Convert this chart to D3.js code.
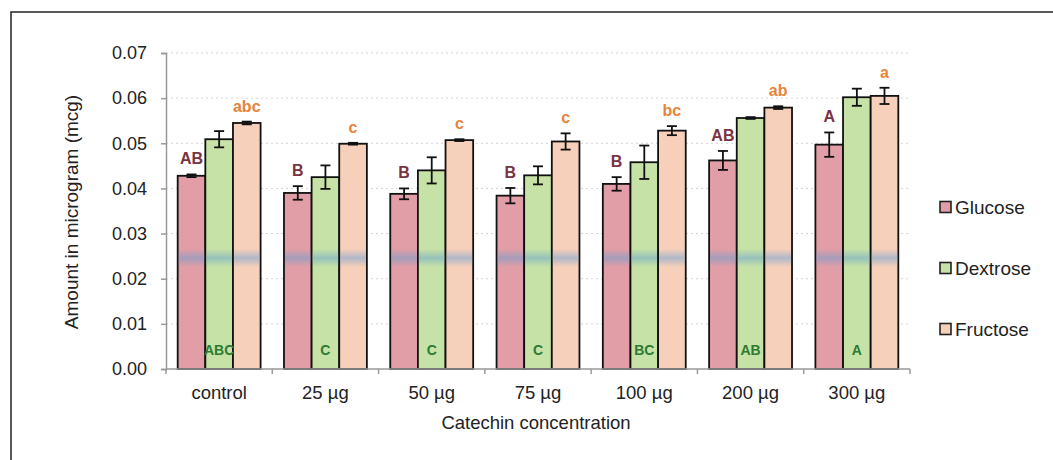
<!DOCTYPE html>
<html>
<head>
<meta charset="utf-8">
<script src="https://cdn.jsdelivr.net/npm/d3@7"></script>
<style>
  html, body { margin: 0; padding: 0; background: #fff; }
  svg { display: block; font-family: "Liberation Sans", Arial, sans-serif; }
</style>
</head>
<body>
<svg id="chart" width="1053" height="460"></svg>
<script>
// Sugar content at each catechin concentration
const categories = ["control", "25 µg", "50 µg", "75 µg", "100 µg", "200 µg", "300 µg"];
const seriesNames = ["Glucose", "Dextrose", "Fructose"];

const glucose      = [0.0428, 0.0390, 0.0388, 0.0384, 0.0410, 0.0462, 0.0497];
const glucoseErr   = [0.0003, 0.0015, 0.0012, 0.0017, 0.0015, 0.0021, 0.0027];
const dextrose     = [0.0509, 0.0425, 0.0440, 0.0429, 0.0458, 0.0556, 0.0602];
const dextroseErr  = [0.0018, 0.0026, 0.0029, 0.0020, 0.0037, 0.0002, 0.0019];
const fructose     = [0.0545, 0.0499, 0.0507, 0.0504, 0.0528, 0.0579, 0.0605];
const fructoseErr  = [0.0003, 0.0002, 0.0002, 0.0018, 0.0010, 0.0003, 0.0018];

// Significance letters per series
const glucoseLetters  = ["AB", "B", "B", "B", "B", "AB", "A"];
const dextroseLetters = ["ABC", "C", "C", "C", "BC", "AB", "A"];
const fructoseLetters = ["abc", "c", "c", "c", "bc", "ab", "a"];

const yTicks = [0, 0.01, 0.02, 0.03, 0.04, 0.05, 0.06, 0.07];

const fills = ["#e29ea6", "#c7e2a6", "#f6d0bb"];
const letterColors = ["#7a3343", "#2c7a33", "#e8843a"];

const svg = d3.select("#chart");

// Outer frame
svg.append("path")
  .attr("d", "M11,462 V12 H1055")
  .attr("fill", "none").attr("stroke", "#222").attr("stroke-width", 1.5);

const plotLeft = 166, plotRight = 910, plotTop = 53, plotBottom = 369;

const y = d3.scaleLinear().domain([0, 0.07]).range([plotBottom, plotTop]);
const x = d3.scaleBand().domain(categories).range([plotLeft, plotRight])
  .paddingInner(0.22).paddingOuter(0.11);
const xs = d3.scaleBand().domain(seriesNames).range([0, x.bandwidth()]).padding(0);

const rows = categories.map((c, i) => ({
  cat: c,
  items: [
    { s: "Glucose",  v: glucose[i],  e: glucoseErr[i],  l: glucoseLetters[i] },
    { s: "Dextrose", v: dextrose[i], e: dextroseErr[i], l: dextroseLetters[i] },
    { s: "Fructose", v: fructose[i], e: fructoseErr[i], l: fructoseLetters[i] }
  ]
}));

// Gridlines
svg.append("g").selectAll("line").data(yTicks.slice(1)).join("line")
  .attr("x1", plotLeft).attr("x2", plotRight)
  .attr("y1", d => y(d)).attr("y2", d => y(d))
  .attr("stroke", "#d4d4d4").attr("stroke-width", 1).attr("stroke-dasharray", "2,3");

// Y axis
const yAxis = svg.append("g").attr("transform", `translate(${plotLeft},0)`)
  .call(d3.axisLeft(y).tickValues(yTicks).tickFormat(d3.format(".2f")).tickSize(5).tickPadding(14));
yAxis.select(".domain").attr("stroke", "#999").attr("stroke-width", 1.5);
yAxis.selectAll(".tick line").attr("stroke", "#999").attr("stroke-width", 1.5);
yAxis.selectAll(".tick text").attr("font-size", 18).attr("fill", "#222")
  .attr("font-family", "Liberation Sans, Arial, sans-serif");

// Haze gradient
const defs = svg.append("defs");
const grad = defs.append("linearGradient").attr("id", "haze")
  .attr("x1", 0).attr("x2", 0).attr("y1", 0).attr("y2", 1);
grad.append("stop").attr("offset", "0%").attr("stop-color", "#5a9ad6").attr("stop-opacity", 0);
grad.append("stop").attr("offset", "50%").attr("stop-color", "#5a9ad6").attr("stop-opacity", 0.45);
grad.append("stop").attr("offset", "100%").attr("stop-color", "#5a9ad6").attr("stop-opacity", 0);

// Bars
const groups = svg.append("g").selectAll("g").data(rows).join("g")
  .attr("transform", d => `translate(${x(d.cat)},0)`);

groups.selectAll("rect.bar").data(d => d.items).join("rect")
  .attr("class", "bar")
  .attr("x", d => xs(d.s)).attr("width", xs.bandwidth())
  .attr("y", d => y(d.v)).attr("height", d => y(0) - y(d.v))
  .attr("fill", (d, i) => fills[i])
  .attr("stroke", "#111").attr("stroke-width", 1.8);

groups.selectAll("rect.haze").data(d => d.items).join("rect")
  .attr("class", "haze")
  .attr("x", d => xs(d.s) + 1).attr("width", xs.bandwidth() - 2)
  .attr("y", 249).attr("height", 18)
  .attr("fill", "url(#haze)");

// Error bars
const cap = 5;
const err = groups.selectAll("g.err").data(d => d.items).join("g").attr("class", "err")
  .attr("stroke", "#111").attr("stroke-width", 1.8);
err.append("line")
  .attr("x1", d => xs(d.s) + xs.bandwidth() / 2).attr("x2", d => xs(d.s) + xs.bandwidth() / 2)
  .attr("y1", d => y(d.v + d.e)).attr("y2", d => y(d.v - d.e));
err.append("line")
  .attr("x1", d => xs(d.s) + xs.bandwidth() / 2 - cap).attr("x2", d => xs(d.s) + xs.bandwidth() / 2 + cap)
  .attr("y1", d => y(d.v + d.e)).attr("y2", d => y(d.v + d.e));
err.append("line")
  .attr("x1", d => xs(d.s) + xs.bandwidth() / 2 - cap).attr("x2", d => xs(d.s) + xs.bandwidth() / 2 + cap)
  .attr("y1", d => y(d.v - d.e)).attr("y2", d => y(d.v - d.e));

// Significance letters
groups.selectAll("text.letter").data(d => d.items).join("text")
  .attr("class", "letter")
  .attr("x", d => xs(d.s) + xs.bandwidth() / 2)
  .attr("y", d => d.s === "Dextrose" ? 355 : y(d.v + d.e) - 10)
  .attr("text-anchor", "middle")
  .attr("font-weight", "bold")
  .attr("font-size", d => d.s === "Dextrose" ? 14 : 16)
  .attr("fill", (d, i) => letterColors[i])
  .text(d => d.l);

// X axis
const boundaries = d3.range(categories.length + 1).map(i => plotLeft + i * x.step());
svg.append("line")
  .attr("x1", plotLeft).attr("x2", plotRight).attr("y1", plotBottom).attr("y2", plotBottom)
  .attr("stroke", "#999").attr("stroke-width", 1.5);
svg.append("g").selectAll("line").data(boundaries).join("line")
  .attr("x1", d => d).attr("x2", d => d).attr("y1", plotBottom).attr("y2", plotBottom + 5)
  .attr("stroke", "#999").attr("stroke-width", 1.5);
svg.append("g").selectAll("text").data(categories).join("text")
  .attr("x", d => x(d) + x.bandwidth() / 2).attr("y", 399)
  .attr("text-anchor", "middle").attr("font-size", 18.5).attr("fill", "#222")
  .text(d => d);

// Axis titles
svg.append("text")
  .attr("x", 536).attr("y", 429).attr("text-anchor", "middle")
  .attr("font-size", 18.5).attr("fill", "#222")
  .text("Catechin concentration");
svg.append("text")
  .attr("transform", "translate(78,212) rotate(-90)")
  .attr("text-anchor", "middle").attr("font-size", 19).attr("fill", "#222")
  .text("Amount in microgram (mcg)");

// Legend
const legend = svg.append("g").selectAll("g").data(seriesNames).join("g")
  .attr("transform", (d, i) => `translate(940,${207 + i * 61})`);
legend.append("rect")
  .attr("x", 0).attr("y", -5.5).attr("width", 11).attr("height", 11)
  .attr("fill", (d, i) => fills[i]).attr("stroke", "#222").attr("stroke-width", 1.6);
legend.append("text")
  .attr("x", 15).attr("y", 6.5).attr("font-size", 19).attr("fill", "#222")
  .text(d => d);
</script>
</body>
</html>
